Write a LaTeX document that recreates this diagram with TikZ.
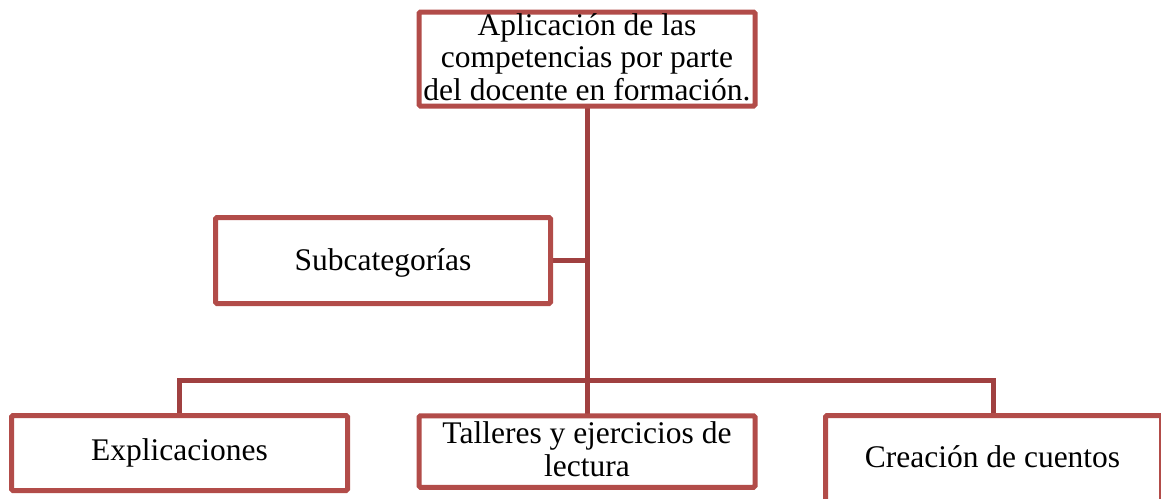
\documentclass[tikz,border=0pt]{standalone}
\usepackage{fontspec}
\setmainfont{Liberation Serif}
\usetikzlibrary{backgrounds}
\definecolor{boxred}{RGB}{178,76,73}
\definecolor{linered}{RGB}{160,64,64}
\begin{document}
\begin{tikzpicture}[x=1pt,y=1pt,
  box/.style={draw=boxred, fill=white, line width=5pt, rounded corners=1.5pt,
    inner sep=0pt, outer sep=0pt, minimum width=336pt},
  lbl/.style={font=\fontsize{31.5}{32.5}\selectfont, align=center, inner sep=0pt, anchor=base},
  conn/.style={draw=linered, line width=5pt}]
\useasboundingbox (0,0) rectangle (1161,-498);
\coordinate (hub) at (587,-380);
% boxes
\node[box, minimum height=94pt] (top) at (587,-59) {};
\node[box, minimum width=335pt, minimum height=86pt] (sub) at (383,-260.5) {};
\node[box, minimum height=75pt] (exp) at (179.5,-453) {};
\node[box, minimum height=71.5pt] (tal) at (587,-451.5) {};
\node[box, minimum height=87pt] (cre) at (993.5,-459) {};
% connectors
\begin{scope}[on background layer]
\draw[conn] (top.south) -- (tal.north);
\draw[conn] (sub.east) -- (sub.east -| top.south);
\draw[conn] (exp.north) |- (hub) -| (cre.north);
\end{scope}
% texts
\node[lbl] (t1) at (587,-100) {Aplicación de las\\competencias por parte\\del docente en formación.};
\node[lbl] (t2) at (383,-270) {Subcategorías};
\node[lbl] (t3) at (179.5,-460) {Explicaciones};
\node[lbl] (t4) at (587,-476) {Talleres y ejercicios de\\lectura};
\node[lbl] (t5) at (992.5,-467) {Creación de cuentos};
\end{tikzpicture}
\end{document}
